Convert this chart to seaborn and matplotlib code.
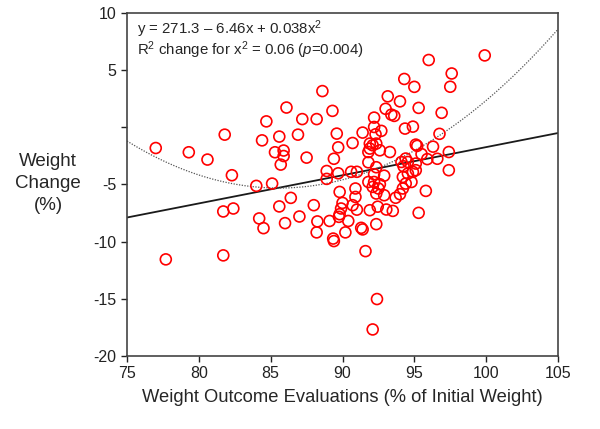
import seaborn as sns
import matplotlib.pyplot as plt
import pandas as pd
import numpy as np

sns.set_style("white")
plt.rcParams['font.family'] = ['Liberation Sans', 'DejaVu Sans']
plt.rcParams['mathtext.fontset'] = 'custom'
plt.rcParams['mathtext.rm'] = 'Liberation Sans'
plt.rcParams['mathtext.it'] = 'Liberation Sans:italic'

# Weight outcome evaluation (% of initial weight)
eval_pct = [77.0, 79.3, 80.6, 81.8, 82.3, 77.7, 81.7, 81.7, 82.4, 84.0,
            84.2, 84.5, 84.4, 84.7, 85.1, 85.3, 85.6, 85.6, 85.7, 85.9,
            85.9, 86.0, 86.1, 86.4, 86.9, 87.0, 87.2, 87.5, 88.0, 88.2,
            88.25, 88.2, 88.6, 88.9, 88.9, 89.1, 89.3, 89.35, 89.4, 89.4,
            89.6, 89.7, 89.7, 89.8, 90.0, 89.9, 89.8, 89.75, 90.2, 90.4,
            90.7, 90.7, 90.6, 91.0, 90.9, 90.9, 91.0, 91.3, 91.4, 91.4,
            91.6, 91.8, 91.9, 92.1, 91.8, 92.35, 91.9, 92.2, 92.2, 92.3,
            92.7, 92.6, 93.3, 92.35, 92.2, 92.9, 91.8, 92.2, 92.1, 92.5,
            92.35, 92.6, 92.9, 93.7, 94.0, 94.2, 94.4, 94.8, 94.2, 94.55,
            94.9, 95.1, 94.25, 94.1, 94.4, 94.55, 95.1, 95.5, 95.9, 96.6,
            95.1, 95.2, 96.3, 96.75, 97.4, 97.4, 95.8, 95.3, 91.9, 92.45,
            93.05, 93.5, 92.35, 92.4, 92.1, 94.35, 94.9, 96.9, 95.3, 93.0,
            93.4, 93.6, 94.0, 93.15, 94.3, 95.0, 97.5, 97.6, 96.0, 99.9]

# Weight change (%)
weight_change = [-1.81, -2.18, -2.82, -0.64, -4.19, -11.55, -11.2, -7.36, -7.1, -5.12,
                 -7.97, -8.82, -1.14, 0.52, -4.92, -2.18, -0.81, -6.92, -3.26, -2.03,
                 -2.51, -8.38, 1.73, -6.17, -0.64, -7.8, 0.72, -2.65, -6.81, 0.72,
                 -8.23, -9.19, 3.17, -3.82, -4.51, -8.19, 1.44, -9.73, -9.95, -2.75,
                 -0.55, -4.02, -1.75, -5.65, -6.61, -7.1, -7.6, -7.83, -9.19, -8.19,
                 -6.81, -1.37, -3.89, -3.89, -5.35, -6.09, -7.2, -8.79, -8.93, -0.46,
                 -10.83, -3.06, -1.42, -1.57, -2.16, -1.42, -1.86, 0.85, 0.03, -0.61,
                 -0.31, -2.01, -2.16, -3.49, -4.1, -4.23, -4.78, -4.78, -5.21, -5.35,
                 -5.79, -4.98, -5.94, -6.16, -5.85, -5.35, -4.92, -4.78, -4.34, -4.04,
                 -3.9, -3.75, -3.41, -3.03, -2.73, -3.03, -3.17, -2.34, -2.78, -2.75,
                 -1.51, -1.62, -1.69, -0.57, -2.16, -3.75, -5.56, -7.48, -7.25, -6.94,
                 -7.19, -7.31, -8.47, -15.02, -17.68, -0.11, 0.06, 1.27, 1.7, 1.62,
                 1.11, 1.0, 2.27, 2.71, 4.23, 3.54, 3.55, 4.71, 5.89, 6.29]

# fitted lines as drawn in the figure
linear_coef = [0.2463, -26.36]
quad_coef = [0.0368, -6.298, 264.15]

x_ticks = [75, 80, 85, 90, 95, 100, 105]
y_ticks = [10, 5, 0, -5, -10, -15, -20]
y_tick_labels = ['10', '5', '', '-5', '-10', '-15', '-20']

df = pd.DataFrame({'eval': eval_pct, 'change': weight_change})

fig = plt.figure(figsize=(6, 4.29), dpi=100)
ax = fig.add_axes([0.2117, 0.1702, 0.7183, 0.7995])

sns.scatterplot(data=df, x='eval', y='change', ax=ax, marker='o',
                facecolors='none', edgecolor='#ff0000', linewidth=1.2, s=62,
                zorder=3)

xs = np.linspace(75, 105, 300)
ax.plot(xs, np.polyval(linear_coef, xs), color='#1a1a1a', lw=1.3, zorder=2)
ax.plot(xs, np.polyval(quad_coef, xs), color='#555555', lw=0.9,
        linestyle=(0, (1, 1.2)), zorder=2)

ax.set_xlim(75, 105)
ax.set_ylim(-20, 10)
ax.set_xticks(x_ticks)
ax.set_yticks(y_ticks)
ax.set_yticklabels(y_tick_labels)
ax.tick_params(direction='out', length=4, width=1, colors='#222222',
               labelsize=11.5, left=True, bottom=True)
for sp in ax.spines.values():
    sp.set_color('#444444')
    sp.set_linewidth(1.2)

ax.set_xlabel('Weight Outcome Evaluations (% of Initial Weight)', fontsize=13.2,
              va='center')
ax.xaxis.set_label_coords(0.5, -0.122)
ax.set_ylabel('Weight\nChange\n(%)', fontsize=13.5, rotation=0,
              ha='center', va='center', linespacing=1.38)
ax.yaxis.set_label_coords(-0.183, 0.504)

# both annotation lines in one text block
ax.text(0.024, 0.922,
        'y = 271.3 \u2013 6.46x + 0.038x$^2$\n'
        'R$^2$ change for x$^2$ = 0.06 ($p$=0.004)',
        transform=ax.transAxes, fontsize=10.8, va='center', ha='left',
        linespacing=1.0)

plt.savefig('out.png', dpi=100)
